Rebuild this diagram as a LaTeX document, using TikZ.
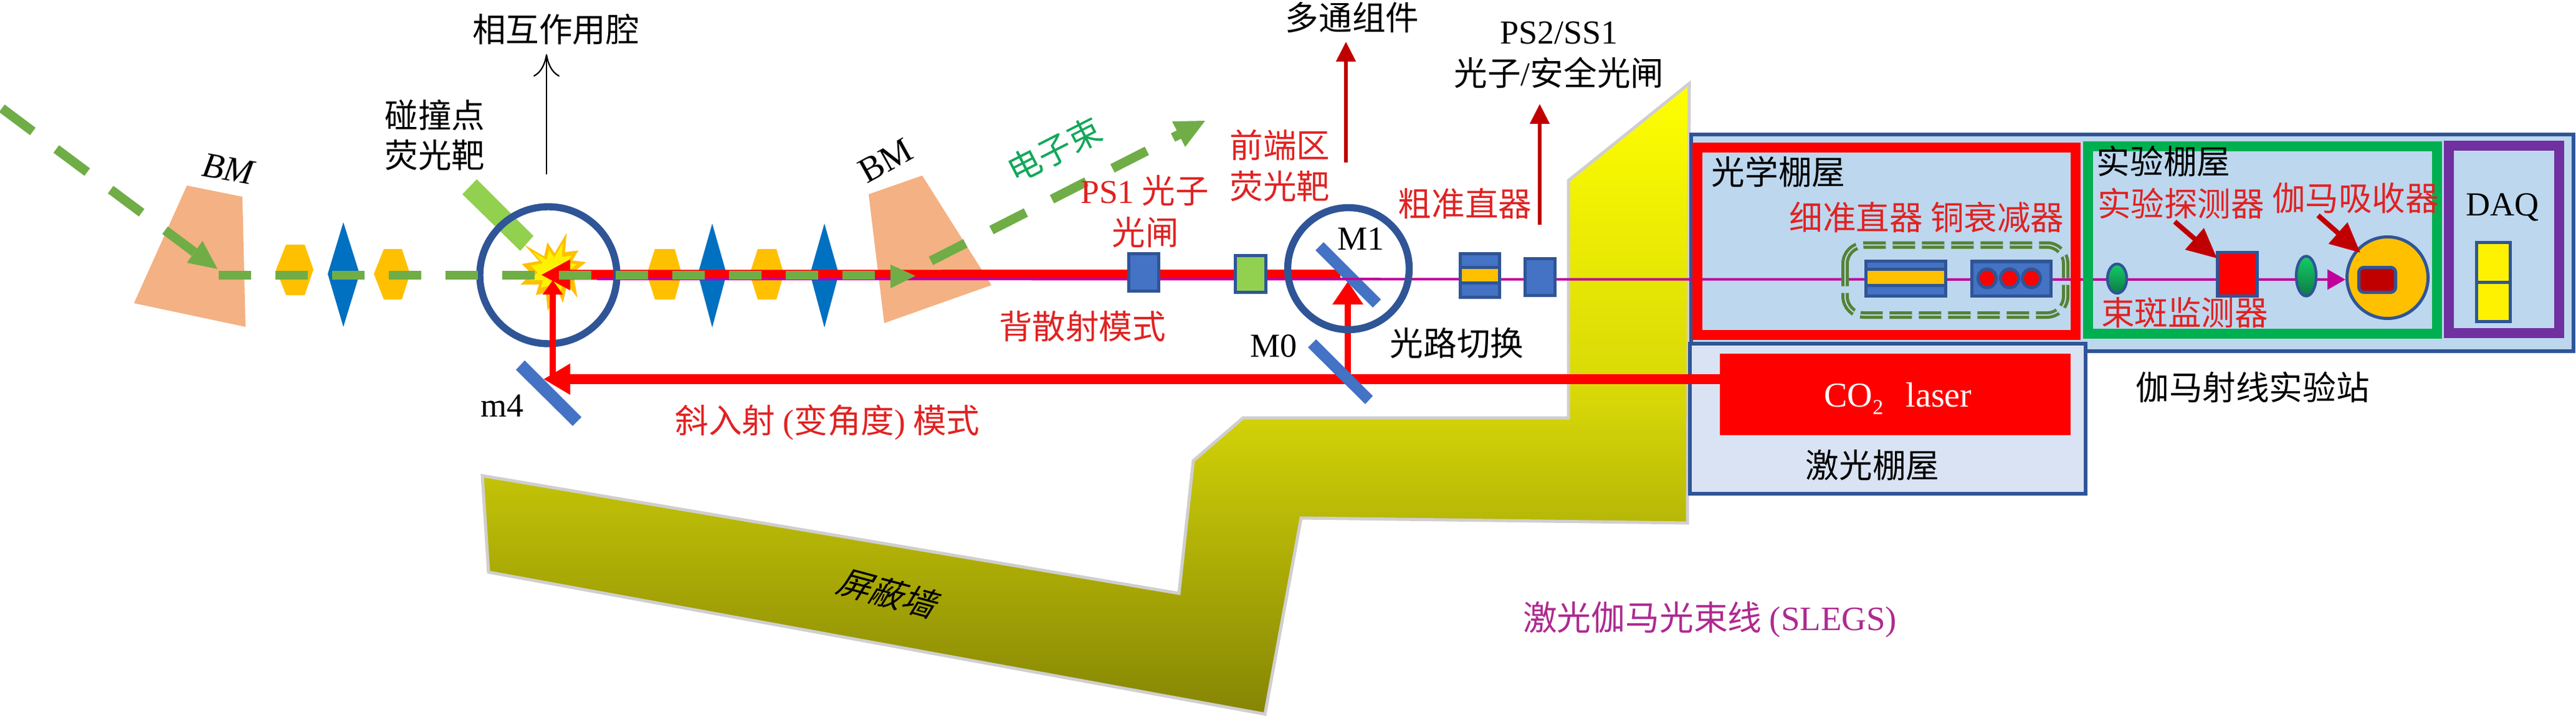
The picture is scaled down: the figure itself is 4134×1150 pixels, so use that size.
\documentclass[tikz,border=0pt]{standalone}
\usepackage{fontspec}
\setmainfont{Liberation Serif}
\newfontfamily\cjk{Noto Sans CJK SC}
\newfontfamily\cjkslant[FakeSlant=0.3]{Noto Sans CJK SC}
\newcommand{\latn}[1]{{\rmfamily #1}}
\usetikzlibrary{arrows.meta}
\definecolor{bmc}{HTML}{F4B183}
\definecolor{hexc}{HTML}{FFC000}
\definecolor{diac}{HTML}{0070C0}
\definecolor{beamg}{HTML}{70AD47}
\definecolor{ringc}{HTML}{2F5597}
\definecolor{boxc}{HTML}{4472C4}
\definecolor{limec}{HTML}{92D050}
\definecolor{darkr}{HTML}{C00000}
\definecolor{magc}{HTML}{C0009A}
\definecolor{wallg}{HTML}{D0CECE}
\definecolor{walltop}{HTML}{FFFF00}
\definecolor{wallmid}{HTML}{D7D708}
\definecolor{wallbot}{HTML}{858505}
\definecolor{stationc}{HTML}{BDD7EE}
\definecolor{hutchc}{HTML}{DAE3F3}
\definecolor{greenf}{HTML}{00B050}
\definecolor{purplef}{HTML}{7030A0}
\definecolor{dashg}{HTML}{548235}
\definecolor{redtxt}{HTML}{E02222}
\definecolor{magtxt}{HTML}{AE2A90}
\definecolor{greentxt}{HTML}{12A85A}
\definecolor{elltop}{HTML}{14CC66}
\definecolor{ellbot}{HTML}{0E7A45}
\tikzset{
  x=0.5pt,y=-0.5pt,
  lb/.style={inner sep=0pt,font=\fontsize{26.8}{30}\selectfont\cjk},
  redlb/.style={lb,text=redtxt},
  hexs/.style={fill=hexc},
  dias/.style={fill=diac},
  bms/.style={fill=bmc},
  mirror/.style={fill=boxc},
  rbeam/.style={draw=red,line width=8pt},
  ring/.style={draw=ringc,line width=5.7pt},
  gdash/.style={draw=beamg,line width=7pt,dash pattern=on 26pt off 19.5pt},
  gdashb/.style={draw=beamg,line width=7.5pt,dash pattern=on 31pt off 23.5pt},
  bluebox/.style={fill=boxc,draw=ringc,line width=2.5pt},
  frame/.style={line width=8pt},
  darrow/.style={draw=darkr,line width=2.6pt,-{Triangle[length=16pt,width=15.5pt]}},
  slant/.style={draw=darkr,line width=4pt,-{Triangle[length=24pt,width=22pt]}},
  ell/.style={draw=ringc,line width=2.2pt,top color=elltop,bottom color=ellbot},
}
\begin{document}
\begin{tikzpicture}
\useasboundingbox (0,0) rectangle (4134,1150);
\clip (0,0) rectangle (4134,1150);
% ---------- shielding wall
\shadedraw[top color=walltop,bottom color=wallbot,middle color=wallmid,draw=wallg,line width=2.5pt]
  (2711,134)--(2517,290)--(2517,671)--(1995,671)--(1915,740)--(1892,953)--(774,764)--(784,919)--(2030,1147)--(2088,832)--(2708,840)--cycle;
\path (1422,952) node[lb,rotate=-15,font=\fontsize{26.8}{30}\selectfont\cjkslant] (wall) {屏蔽墙};
% ---------- bending magnets
\fill[bms] (300,298)--(389,316)--(394,525)--(215,487)--cycle;
\fill[bms] (1394,312)--(1480,282)--(1591,458)--(1419,519)--cycle;
\node[inner sep=0pt,rotate=-10,font=\fontsize{28.5}{32}\selectfont\itshape] (bma) at (366,271) {BM};
\node[inner sep=0pt,rotate=29,font=\fontsize{28.5}{32}\selectfont] (bmb) at (1421,258) {BM};
% ---------- quadrupoles / sextupoles
\fill[hexs] (459,393)--(489,393)--(503,433)--(489,474)--(459,474)--(443,433)--cycle;
\fill[dias] (551,357)--(577,440)--(551,525)--(526,440)--cycle;
\fill[hexs] (616,400)--(645,400)--(658,440)--(645,481)--(616,481)--(600,440)--cycle;
\fill[hexs] (1051,400)--(1083,400)--(1094,440)--(1083,481)--(1051,481)--(1038,440)--cycle;
\fill[dias] (1143,359)--(1166,440)--(1143,526)--(1120,440)--cycle;
\fill[hexs] (1216,400)--(1246,400)--(1258,440)--(1246,481)--(1216,481)--(1203,440)--cycle;
\fill[dias] (1323,359)--(1346,440)--(1323,526)--(1300,440)--cycle;
% ---------- target and burst
\fill[limec] (765,288)--(742,312)--(835,403)--(856,379)--cycle;
\def\burst{(909.3,374)--(906.7,405)--(928.3,402.3)--(918.3,418.3)--(940.7,421)--(923.3,435)--(921.7,450)--(926.7,478.3)--(910,456.7)--(903.3,486.7)--(895,466.7)--(879,500)--(876,470)--(860,474)--(865,456.7)--(835,457.3)--(853.3,440)--(837.3,424)--(865,419.3)--(841.7,393.3)--(873.3,411.7)--(878.3,389)--(890,406.7)--cycle}
\fill[hexc] \burst;
\fill[yellow,scale around={0.72:(888,432)}] \burst;
% ---------- station and hutch backgrounds
\fill[stationc,draw=ringc,line width=3pt] (2714,216) rectangle (4130,564);
\fill[hutchc,draw=ringc,line width=3pt] (2712,552) rectangle (3347,793);
% ---------- laser
\node[fill=red,inner sep=0pt,minimum width=281.5pt,minimum height=65.5pt,anchor=north west] (laser) at (2760,568) {};
\node[inner sep=0pt,text=white,font=\fontsize{28}{30}\selectfont] (lasertext) at (3046,640) {CO\raisebox{-6pt}{\fontsize{17}{17}\selectfont 2}\hspace{0.65em}laser};
% ---------- beams
\coordinate (ltop) at (2151,441);
\coordinate (ip) at (868,441.5);
\coordinate (lowr) at (2762,609);
\coordinate (lowl) at (872,609);
\coordinate (m0up) at (2163,609);
\coordinate (m1hit) at (2163,452);
\coordinate (m4up) at (887,609);
\coordinate (iphit) at (887,450);
\draw[rbeam,-{Triangle[length=23.5pt,width=23pt]}] (ltop)--(ip);
\draw[line width=4.6pt,draw=red,-{Triangle[length=18.5pt,width=23.5pt]}] (m0up)--(m1hit);
\draw[rbeam,-{Triangle[length=21.5pt,width=23.5pt]}] (lowr)--(lowl);
\coordinate (gstart) at (958,448);
\coordinate (gend) at (3764,449);
\draw[magc,line width=2pt,-{Triangle[length=14.5pt,width=16pt]}] (gstart)--(gend);
% ---------- rings
\draw[ring] (880,442) ellipse [x radius=110,y radius=110];
\draw[ring] (2164,431.5) ellipse [x radius=97.5,y radius=98];
\draw[line width=4.6pt,draw=red,-{Triangle[length=11.5pt,width=15.5pt]}] (m4up)--(iphit);
% ---------- electron beam
\coordinate (ea) at (3,174);
\coordinate (eb) at (312,405);
\coordinate (ec) at (351,442);
\coordinate (ed) at (1429,442);
\coordinate (ee) at (1494,419);
\coordinate (ef) at (1892,216);
\draw[gdashb] (ea)--(eb);
\fill[beamg] (349,432)--(325,387)--(300,422)--cycle;
\draw[gdash] (ec)--(ed);
\fill[beamg] (1429,425)--(1469,443)--(1429,463)--cycle;
\draw[gdashb] (ee)--(ef);
\fill[beamg] (1934,194)--(1881,195)--(1902,236)--cycle;
% ---------- mirrors
\fill[mirror] (842,579)--(828,594)--(919,684)--(933,670)--cycle;
\fill[mirror] (2124,389)--(2111,402)--(2203,494)--(2216,481)--cycle;
\draw[magc,line width=2pt] (2151,448)--(2216,448);
\fill[mirror] (2112,545)--(2099,558)--(2191,649)--(2203,636)--cycle;
% ---------- beamline boxes
\draw[bluebox] (1811,407) rectangle (1859,467);
\draw[fill=limec,draw=ringc,line width=2.5pt] (1982,410) rectangle (2031,469);
\draw[bluebox] (2343,407) rectangle (2406,429);
\draw[fill=hexc,draw=ringc,line width=2.5pt] (2343,429) rectangle (2406,454);
\draw[bluebox] (2343,454) rectangle (2406,477);
\draw[bluebox] (2447,415) rectangle (2495,474);
% ---------- optical hutch contents
\draw[bluebox] (2994,419) rectangle (3122,432);
\draw[fill=hexc,draw=ringc,line width=2.5pt] (2994,432) rectangle (3122,458);
\draw[bluebox] (2994,458) rectangle (3122,475);
\draw[bluebox] (3164,419) rectangle (3291,475);
\fill[ringc] (3164,419) rectangle (3291,423);
\foreach \cx in {3189,3225,3260} \draw[fill=red,draw=ringc,line width=2.5pt] (\cx,447) ellipse [x radius=14.5,y radius=15];
\draw[dashg,line width=6pt,rounded corners=15pt,dash pattern=on 18pt off 5.5pt] (2961,393.5) rectangle (3315,506);
\draw[stationc,line width=1pt,rounded corners=15pt,dash pattern=on 18pt off 5.5pt] (2961,393.5) rectangle (3315,506);
% ---------- frames
\draw[red,frame] (2724,237) rectangle (3331,538);
\draw[greenf,frame] (3351,235.5) rectangle (3911,535.5);
\draw[purplef,frame] (3930,234.5) rectangle (4107,535);
% ---------- experimental hutch contents
\shadedraw[ell] (3397.5,447.5) ellipse [x radius=15.5,y radius=23.5];
\draw[fill=red,draw=ringc,line width=2.5pt] (3558.5,405.5) rectangle (3622.5,475.5);
\shadedraw[ell] (3701,443.5) ellipse [x radius=16,y radius=32];
\draw[fill=hexc,draw=ringc,line width=2.5pt] (3831.5,446) ellipse [x radius=65,y radius=65.5];
\draw[fill=darkr,draw=ringc,line width=2.5pt,rounded corners=4pt] (3785.5,429.5) rectangle (3844.5,469.5);
\coordinate (aa) at (3490,356);
\coordinate (ab) at (3558,415);
\coordinate (ba) at (3720,346);
\coordinate (bb) at (3788,406);
\draw[slant] (aa)--(ab);
\draw[slant] (ba)--(bb);
% ---------- DAQ
\draw[fill=yellow,draw=ringc,line width=2.5pt] (3974.5,389.5) rectangle (4028.5,453);
\draw[fill=yellow,draw=ringc,line width=2.5pt] (3974.5,453) rectangle (4028.5,516.5);
% ---------- vertical pointers
\coordinate (caa) at (877,280);
\coordinate (cab) at (877,87);
\draw[line width=1.1pt,-{To[length=18pt,width=21pt]}] (caa)--(cab);
\coordinate (pa) at (2160,261);
\coordinate (pb) at (2160,67);
\draw[darrow] (pa)--(pb);
\coordinate (qa) at (2471,361);
\coordinate (qb) at (2471,167);
\draw[darrow] (qa)--(qb);
% ---------- labels
\node[lb] (cav) at (892,47) {相互作用腔};
\node[lb] (col1) at (698,185) {碰撞点};
\node[lb] (col2) at (698,249) {荧光靶};
\node[lb,font=\fontsize{27}{30}\selectfont] (m4) at (806,652) {m4};
\node[lb,rotate=27,text=greentxt] (ebeam) at (1692,241) {电子束};
\node[redlb] (ps1a) at (1837,306) {\latn{PS1} 光子};
\node[redlb] (ps1b) at (1838,373) {光闸};
\node[redlb] (back) at (1737,524) {背散射模式};
\node[redlb] (obl) at (1328,678) {斜入射 \latn{(}变角度\latn{)} 模式};
\node[redlb] (fe1) at (2054,233) {前端区};
\node[redlb] (fe2) at (2054,299) {荧光靶};
\node[redlb] (coarse) at (2351,327) {粗准直器};
\node[lb] (mp) at (2170,28) {多通组件};
\node[lb,font=\fontsize{27}{30}\selectfont] (ps2) at (2502,53) {PS2/SS1};
\node[lb] (ps2b) at (2502,117) {光子\latn{/}安全光闸};
\node[lb,font=\fontsize{27}{30}\selectfont] (m1) at (2184,384) {M1};
\node[lb,font=\fontsize{27}{30}\selectfont] (m0) at (2044,556) {M0};
\node[lb] (sw) at (2338,551) {光路切换};
\node[lb] (opt) at (2854,276) {光学棚屋};
\node[redlb] (fine) at (3092,349) {细准直器 铜衰减器};
\node[lb] (exph) at (3472,259) {实验棚屋};
\node[redlb] (det) at (3500,327) {实验探测器};
\node[redlb] (abs) at (3780,318) {伽马吸收器};
\node[redlb] (mon) at (3506,502) {束斑监测器};
\node[lb,font=\fontsize{27}{30}\selectfont] (daq) at (4016,333) {DAQ};
\node[lb] (lash) at (3005,747) {激光棚屋};
\node[lb] (gst) at (3615,622) {伽马射线实验站};
\node[lb,text=magtxt,font=\fontsize{27.4}{30}\selectfont\cjk] (slegs) at (2744,995) {激光伽马光束线 \latn{(SLEGS)}};
\end{tikzpicture}
\end{document}
